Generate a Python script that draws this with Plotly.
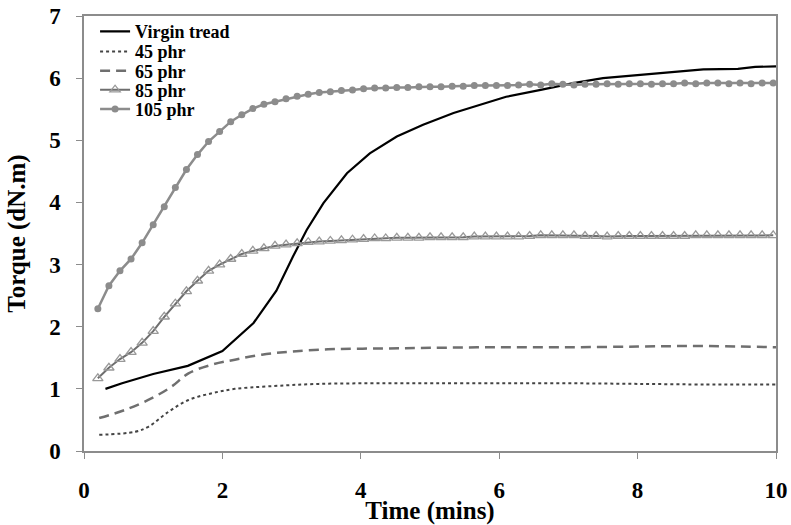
import plotly.graph_objects as go

# ---------------- data ----------------
# sampling times for the marker series (min)
time_markers = [0.20, 0.36, 0.52, 0.68, 0.84, 1.00, 1.16, 1.32, 1.48, 1.64,
                1.80, 1.96, 2.12, 2.28, 2.44, 2.60, 2.76, 2.92, 3.08, 3.24,
                3.40, 3.56, 3.72, 3.88, 4.04, 4.20, 4.36, 4.52, 4.68, 4.84,
                5.00, 5.16, 5.32, 5.48, 5.64, 5.80, 5.96, 6.12, 6.28, 6.44,
                6.60, 6.76, 6.92, 7.08, 7.24, 7.40, 7.56, 7.72, 7.88, 8.04,
                8.20, 8.36, 8.52, 8.68, 8.84, 9.00, 9.16, 9.32, 9.48, 9.64,
                9.80, 9.96]

phr105 = [2.29, 2.66, 2.90, 3.09, 3.35, 3.64, 3.93, 4.24, 4.53, 4.77,
          4.98, 5.14, 5.30, 5.41, 5.51, 5.58, 5.62, 5.67, 5.71, 5.74,
          5.77, 5.78, 5.80, 5.81, 5.83, 5.84, 5.84, 5.85, 5.85, 5.86,
          5.86, 5.86, 5.87, 5.87, 5.88, 5.88, 5.88, 5.88, 5.89, 5.90,
          5.89, 5.91, 5.90, 5.89, 5.90, 5.90, 5.91, 5.90, 5.91, 5.91,
          5.90, 5.91, 5.91, 5.92, 5.91, 5.92, 5.92, 5.91, 5.92, 5.91,
          5.92, 5.92]

phr85 = [1.17, 1.34, 1.48, 1.59, 1.74, 1.93, 2.16, 2.37, 2.57, 2.74,
         2.90, 3.00, 3.09, 3.17, 3.22, 3.26, 3.30, 3.32, 3.34, 3.36,
         3.37, 3.38, 3.39, 3.40, 3.41, 3.42, 3.42, 3.43, 3.43, 3.43,
         3.44, 3.44, 3.44, 3.44, 3.45, 3.45, 3.45, 3.45, 3.45, 3.46,
         3.47, 3.47, 3.47, 3.47, 3.46, 3.46, 3.45, 3.46, 3.46, 3.46,
         3.46, 3.46, 3.46, 3.46, 3.47, 3.47, 3.47, 3.47, 3.47, 3.47,
         3.47, 3.47]

time_virgin = [0.31, 0.55, 1.00, 1.50, 2.00, 2.45, 2.78, 3.02, 3.22, 3.46,
               3.80, 4.13, 4.52, 4.90, 5.34, 5.72, 6.10, 6.60, 7.07, 7.50,
               8.00, 8.50, 8.95, 9.45, 9.70, 10.00]
virgin = [1.00, 1.09, 1.24, 1.37, 1.61, 2.06, 2.58, 3.13, 3.56, 3.99,
          4.47, 4.79, 5.06, 5.25, 5.44, 5.57, 5.70, 5.81, 5.92, 6.00,
          6.05, 6.10, 6.14, 6.15, 6.18, 6.19]

time_65 = [0.22, 0.59, 0.98, 1.27, 1.51, 1.85, 2.18, 2.57, 3.00, 3.63,
           4.35, 5.02, 6.00, 7.00, 8.00, 8.80, 9.50, 10.00]
phr65 = [0.53, 0.66, 0.85, 1.04, 1.25, 1.39, 1.47, 1.55, 1.60, 1.64,
         1.65, 1.66, 1.67, 1.67, 1.68, 1.69, 1.68, 1.67]

time_45 = [0.22, 0.74, 0.93, 1.22, 1.51, 1.85, 2.18, 2.66, 3.39, 4.35,
           5.07, 6.00, 7.00, 8.00, 9.00, 9.50, 10.00]
phr45 = [0.26, 0.31, 0.39, 0.63, 0.82, 0.93, 1.00, 1.04, 1.08, 1.09,
         1.09, 1.09, 1.09, 1.08, 1.07, 1.07, 1.07]

x_ticks = [0, 2, 4, 6, 8, 10]
y_ticks = [0, 1, 2, 3, 4, 5, 6, 7]

# ---------------- figure ----------------
FONT = "Liberation Serif"
AXIS_GREY = "#8c8c8c"

fig = go.Figure()

fig.add_trace(go.Scatter(
    x=time_virgin, y=virgin, mode="lines", name="Virgin tread",
    line=dict(color="black", width=2.2), legend="legend"))
fig.add_trace(go.Scatter(
    x=time_45, y=phr45, mode="lines", name="45 phr",
    line=dict(color="#444444", width=2, dash="dot", shape="spline"),
    legend="legend2"))
fig.add_trace(go.Scatter(
    x=time_65, y=phr65, mode="lines", name="65 phr",
    line=dict(color="#6f6f6f", width=2.5, dash="10px,6px", shape="spline"),
    legend="legend3"))
fig.add_trace(go.Scatter(
    x=time_markers, y=phr85, mode="lines+markers", name="85 phr",
    line=dict(color="#6e6e6e", width=2),
    marker=dict(symbol="triangle-up-open", size=9, color="#999999",
                line=dict(width=1.3, color="#999999")),
    legend="legend4"))
fig.add_trace(go.Scatter(
    x=time_markers, y=phr105, mode="lines+markers", name="105 phr",
    line=dict(color="#8c8c8c", width=2.5),
    marker=dict(symbol="circle", size=7, color="#8c8c8c"),
    legend="legend5"))

legend_rows = [0.9639, 0.9179, 0.8736, 0.8299, 0.7855]
legend_common = dict(x=0.016, xanchor="left", yanchor="middle",
                     bgcolor="rgba(0,0,0,0)", borderwidth=0,
                     font=dict(family=FONT, size=18, color="black",
                               weight="bold"),
                     itemwidth=30)

layout_legends = {}
names = ["legend", "legend2", "legend3", "legend4", "legend5"]
for nm, yy in zip(names, legend_rows):
    layout_legends[nm] = dict(legend_common, y=yy)

fig.update_layout(
    width=791, height=525,
    margin=dict(l=84, r=15, t=16, b=74, autoexpand=False),
    paper_bgcolor="white", plot_bgcolor="white",
    font=dict(family=FONT, color="black"),
    showlegend=True,
    **layout_legends,
)

fig.update_xaxes(
    range=[0, 10], tickvals=x_ticks, ticktext=[str(v) for v in x_ticks],
    showgrid=False, zeroline=False, automargin=False,
    showline=True, mirror=True, linecolor=AXIS_GREY, linewidth=1.5,
    ticks="outside", ticklen=6, tickcolor=AXIS_GREY, tickwidth=1,
    ticklabelstandoff=12,
    tickfont=dict(family=FONT, size=23, color="black", weight="bold"),
    title=dict(text="<b>Time (mins)</b>", standoff=0,
               font=dict(family=FONT, size=25, color="black")),
)
fig.update_yaxes(
    range=[0, 7], tickvals=y_ticks, ticktext=[str(v) for v in y_ticks],
    showgrid=False, zeroline=False, automargin=False,
    showline=True, mirror=True, linecolor=AXIS_GREY, linewidth=1.5,
    ticks="outside", ticklen=6, tickcolor=AXIS_GREY, tickwidth=1,
    ticklabelstandoff=11,
    tickfont=dict(family=FONT, size=23, color="black", weight="bold"),
    title=dict(text="<b>Torque (dN.m)</b>", standoff=16,
               font=dict(family=FONT, size=25, color="black")),
)

fig.write_html("out.html",
               config={"displayModeBar": False},
               post_script="document.body.style.margin='0';"
                           "document.body.style.overflow='hidden';")
